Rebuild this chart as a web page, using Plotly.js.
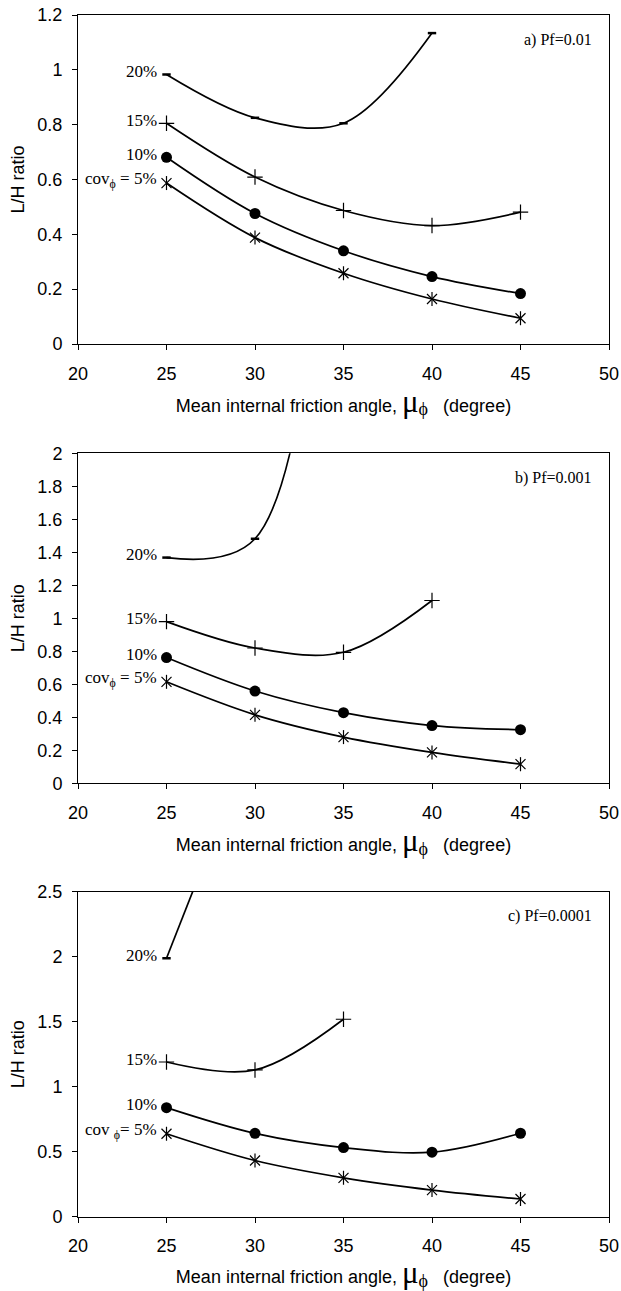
<!DOCTYPE html>
<html>
<head>
<meta charset="utf-8">
<script src="https://cdn.plot.ly/plotly-3.0.1.min.js"></script>
<style>html,body{margin:0;padding:0;background:#fff;}#chart{width:621px;height:1291px;}</style>
</head>
<body>
<div id="chart"></div>
<script>
// ---- data ----
const angles = [25, 30, 35, 40, 45];
const covLabels = [
  ['cov<sub>ϕ</sub> = 5%', '10%', '15%', '20%'],
  ['cov<sub>ϕ</sub> = 5%', '10%', '15%', '20%'],
  ['cov\u00a0<sub>ϕ</sub>= 5%', '10%', '15%', '20%']
];
const panelNames = ['a) Pf=0.01', 'b) Pf=0.001', 'c) Pf=0.0001'];
const yMax = [1.2, 2, 2.5];
const yStep = [0.2, 0.2, 0.5];

// Pf = 0.01
const a_cov5  = [0.587, 0.388, 0.258, 0.164, 0.094];
const a_cov10 = [0.681, 0.476, 0.340, 0.246, 0.184];
const a_cov15 = [0.805, 0.609, 0.487, 0.432, 0.481];
const a_cov20 = [0.983, 0.825, 0.805, 1.134];
// Pf = 0.001
const b_cov5  = [0.615, 0.415, 0.280, 0.187, 0.116];
const b_cov10 = [0.762, 0.559, 0.428, 0.350, 0.325];
const b_cov15 = [0.980, 0.820, 0.794, 1.108];
const b_cov20 = [1.368, 1.482, 5.5];
// Pf = 0.0001
const c_cov5  = [0.638, 0.432, 0.299, 0.205, 0.136];
const c_cov10 = [0.839, 0.641, 0.532, 0.496, 0.642];
const c_cov15 = [1.190, 1.129, 1.519];
const c_cov20 = [1.988, 3.72];

const panels = [
  [a_cov5, a_cov10, a_cov15, a_cov20],
  [b_cov5, b_cov10, b_cov15, b_cov20],
  [c_cov5, c_cov10, c_cov15, c_cov20]
];

// ---- styling ----
const W = 621, H = 1291;
const xDom = [78 / W, 609 / W];
const yDoms = [
  [1 - 344 / H, 1 - 15 / H],
  [1 - 783.3 / H, 1 - 453.3 / H],
  [1 - 1216.7 / H, 1 - 891.7 / H]
];
const lineStyle = {shape: 'spline', smoothing: 1, color: 'black', width: 1.7};
const markerStyles = [
  {symbol: 'x-thin-open', size: 10, color: 'black', line: {width: 1.2, color: 'black'}},
  {symbol: 'circle', size: 11, color: 'black', line: {width: 0}},
  {symbol: 'cross-thin-open', size: 11, color: 'black', line: {width: 1.2, color: 'black'}},
  {symbol: 'line-ew-open', size: 6, color: 'black', line: {width: 2.5, color: 'black'}}
];
const serif = 'Liberation Serif, Times New Roman, serif';

const traces = [];
const annotations = [];
const layout = {
  width: W, height: H,
  margin: {l: 0, r: 0, t: 0, b: 0},
  paper_bgcolor: 'white', plot_bgcolor: 'white',
  showlegend: false,
  font: {family: 'Liberation Sans, Arial, sans-serif', color: 'black'}
};

const xTitle = 'Mean internal friction angle,\u00a0<span style="font-family:Liberation Serif;font-size:31px">μ</span><sub><span style="font-family:Liberation Serif;font-size:18px">ϕ</span></sub>\u00a0\u00a0\u00a0(degree)';

panels.forEach((series, p) => {
  const sfx = p === 0 ? '' : String(p + 1);
  const xa = 'x' + sfx, ya = 'y' + sfx;
  series.forEach((vals, s) => {
    const xs = angles.slice(0, vals.length);
    traces.push({
      x: xs, y: vals, xaxis: xa, yaxis: ya,
      mode: 'lines+markers', type: 'scatter',
      line: lineStyle, marker: markerStyles[s], cliponaxis: false,
      hoverinfo: 'skip'
    });
    if (s === 0) {
      traces.push({
        x: xs, y: vals, xaxis: xa, yaxis: ya,
        mode: 'markers', type: 'scatter',
        marker: {symbol: 'line-ns-open', size: 10, color: 'black', line: {width: 1.2, color: 'black'}},
        hoverinfo: 'skip'
      });
    }
    annotations.push({
      xref: xa, yref: ya, x: xs[0], y: vals[0],
      xanchor: 'right', yanchor: 'middle', xshift: -8, yshift: 3,
      text: covLabels[p][s], showarrow: false,
      font: {family: serif, size: 17, color: 'black'}
    });
  });
  annotations.push({
    xref: xa + ' domain', yref: ya + ' domain', x: 516 / 531, y: 1 - 25 / 329,
    xanchor: 'right', yanchor: 'middle', text: panelNames[p], showarrow: false,
    font: {family: serif, size: 16, color: 'black'}
  });
  layout['xaxis' + sfx] = {
    domain: xDom, anchor: ya, range: [20, 50], dtick: 5, tick0: 20,
    showgrid: false, zeroline: false, showline: true, linecolor: 'black', linewidth: 1,
    mirror: true, ticks: 'outside', ticklen: 5, tickcolor: 'black', ticklabelstandoff: 8,
    tickfont: {size: 18, color: 'black'},
    title: {text: xTitle, font: {size: 18, color: 'black'}, standoff: 3},
    automargin: false, fixedrange: true
  };
  layout['yaxis' + sfx] = {
    domain: yDoms[p], anchor: xa, range: [0, yMax[p]], dtick: yStep[p], tick0: 0,
    showgrid: false, zeroline: false, showline: true, linecolor: 'black', linewidth: 1,
    mirror: true, ticks: 'outside', ticklen: 5, tickcolor: 'black', ticklabelstandoff: 6,
    tickfont: {size: 18, color: 'black'},
    title: {text: 'L/H ratio', font: {size: 18, color: 'black'}, standoff: 8},
    automargin: false, fixedrange: true
  };
});
layout.annotations = annotations;

Plotly.newPlot('chart', traces, layout, {staticPlot: true, displayModeBar: false});
</script>
</body>
</html>
